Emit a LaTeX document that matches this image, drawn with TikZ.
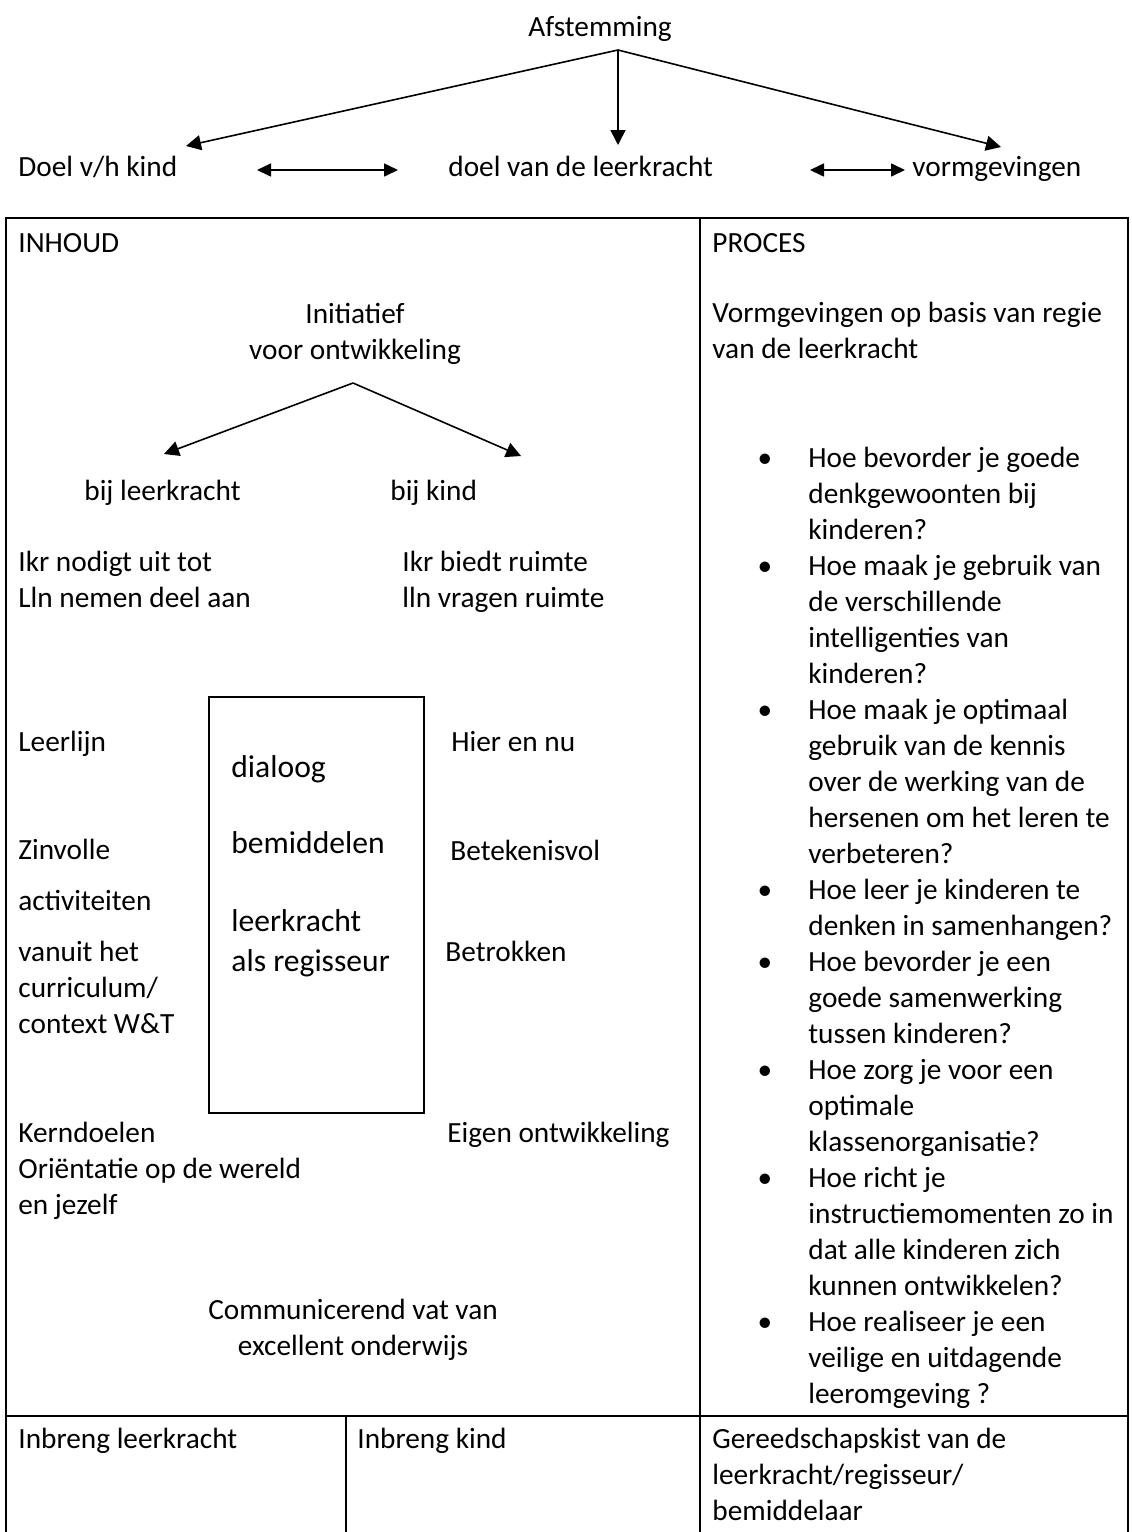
\documentclass[tikz,border=0pt]{standalone}
\usepackage{fontspec}
\setmainfont{Carlito}
\usetikzlibrary{arrows.meta}

\begin{document}
\begin{tikzpicture}[x=0.5pt, y=-0.5pt,
    txt/.style={anchor=base west, inner sep=0pt, align=left, font=\fontsize{14.65}{18}\selectfont},
    ctxt/.style={txt, anchor=base, align=center},
    boxtxt/.style={txt, font=\fontsize{15.8}{20}\selectfont},
    pijl/.style={line width=0.8pt, -{Triangle[length=7.5pt,width=7.5pt]}},
    dpijl/.style={line width=0.8pt, {Triangle[length=7pt,width=6.5pt]}-{Triangle[length=7pt,width=6.5pt]}},
    lijn/.style={line width=0.75pt}]
\useasboundingbox (0,0) rectangle (1131,1532);

% afstemming bovenaan (meerregelige nodes staan op de basislijn van hun laatste regel)
\node[ctxt] (afst) at (600,36) {Afstemming};
\node[txt] (doelkind) at (18,176) {Doel v/h kind};
\node[txt] (doellkr) at (448,176) {doel van de leerkracht};
\node[txt] (vormg) at (912,176) {vormgevingen};
\coordinate (top) at (618,50);
\coordinate (tipL) at (186,146);
\coordinate (tipM) at (618,145);
\coordinate (tipR) at (1001,147);
\draw[pijl] (top) -- (tipL);
\draw[pijl] (top) -- (tipM);
\draw[pijl] (top) -- (tipR);
\coordinate (d1a) at (257,170);
\coordinate (d1b) at (398,170);
\coordinate (d2a) at (810,170);
\coordinate (d2b) at (905,170);
\draw[dpijl] (d1a) -- (d1b);
\draw[dpijl] (d2a) -- (d2b);

% tabel
\draw[lijn] (6,1532) -- (6,218) -- (1128,218) -- (1128,1532);
\draw[lijn] (700,218) -- (700,1532);
\draw[lijn] (6,1416) -- (1128,1416);
\draw[lijn] (346,1416) -- (346,1532);

% INHOUD
\node[txt] (inhoud) at (18,252) {INHOUD};
\node[ctxt] (init) at (355,359) {Initiatief\\voor ontwikkeling};
\coordinate (splits) at (353,383);
\coordinate (tipLk) at (164,454);
\coordinate (tipKd) at (521,456);
\draw[pijl] (splits) -- (tipLk);
\draw[pijl] (splits) -- (tipKd);
\node[txt] (bijlkr) at (84,500) {bij leerkracht};
\node[txt] (bijkind) at (390,500) {bij kind};
\node[txt] (nodigt) at (18,607) {Ikr nodigt uit tot\\Lln nemen deel aan};
\node[txt] (biedt) at (402,607) {Ikr biedt ruimte\\lln vragen ruimte};

\node[draw, lijn, inner sep=0pt, minimum width=107.5pt, minimum height=208pt] (kader) at (316.5,905) {};
\node[boxtxt] (dialoog) at (231,777) {dialoog};
\node[boxtxt] (bemid) at (231,853) {bemiddelen};
\node[boxtxt] (regisseur) at (231,971) {leerkracht\\als regisseur};

\node[txt] (leerlijn) at (18,751) {Leerlijn};
\node[txt] (zinvol) at (18,859) {Zinvolle};
\node[txt] (activ) at (18,910) {activiteiten};
\node[txt] (vanuit) at (18,1033) {vanuit het\\curriculum/\\context W\&T};
\node[txt] (hier) at (451,751) {Hier en nu};
\node[txt] (beteken) at (450,860) {Betekenisvol};
\node[txt] (betrok) at (445,961) {Betrokken};
\node[txt] (kern) at (18,1214) {Kerndoelen\\Oriëntatie op de wereld\\en jezelf};
\node[txt] (eigen) at (447,1142) {Eigen ontwikkeling};
\node[ctxt] (vat) at (353,1355) {Communicerend vat van\\excellent onderwijs};

% PROCES
\node[txt] (proces) at (712,252) {PROCES};
\node[txt] (regie) at (712,358) {Vormgevingen op basis van regie\\van de leerkracht};
\foreach \n/\l/\m/\t in {1/0/2/{Hoe bevorder je goede\\denkgewoonten bij\\kinderen?},
    2/3/3/{Hoe maak je gebruik van\\de verschillende\\intelligenties van\\kinderen?},
    3/7/4/{Hoe maak je optimaal\\gebruik van de kennis\\over de werking van de\\hersenen om het leren te\\verbeteren?},
    4/12/1/{Hoe leer je kinderen te\\denken in samenhangen?},
    5/14/2/{Hoe bevorder je een\\goede samenwerking\\tussen kinderen?},
    6/17/2/{Hoe zorg je voor een\\optimale\\klassenorganisatie?},
    7/20/3/{Hoe richt je\\instructiemomenten zo in\\dat alle kinderen zich\\kunnen ontwikkelen?},
    8/24/2/{Hoe realiseer je een\\veilige en uitdagende\\leeromgeving ?}}{
  \node[ctxt] (bol\n) at (765,{467+36*\l}) {\textbullet};
  \node[txt] (vraag\n) at (808,{467+36*(\l+\m)}) {\t};
}

% onderste rij
\node[txt] (inbrlkr) at (18,1448) {Inbreng leerkracht};
\node[txt] (inbrkind) at (357,1448) {Inbreng kind};
\node[txt] (kist) at (712,1520) {Gereedschapskist van de\\leerkracht/regisseur/\\bemiddelaar};
\end{tikzpicture}
\end{document}
